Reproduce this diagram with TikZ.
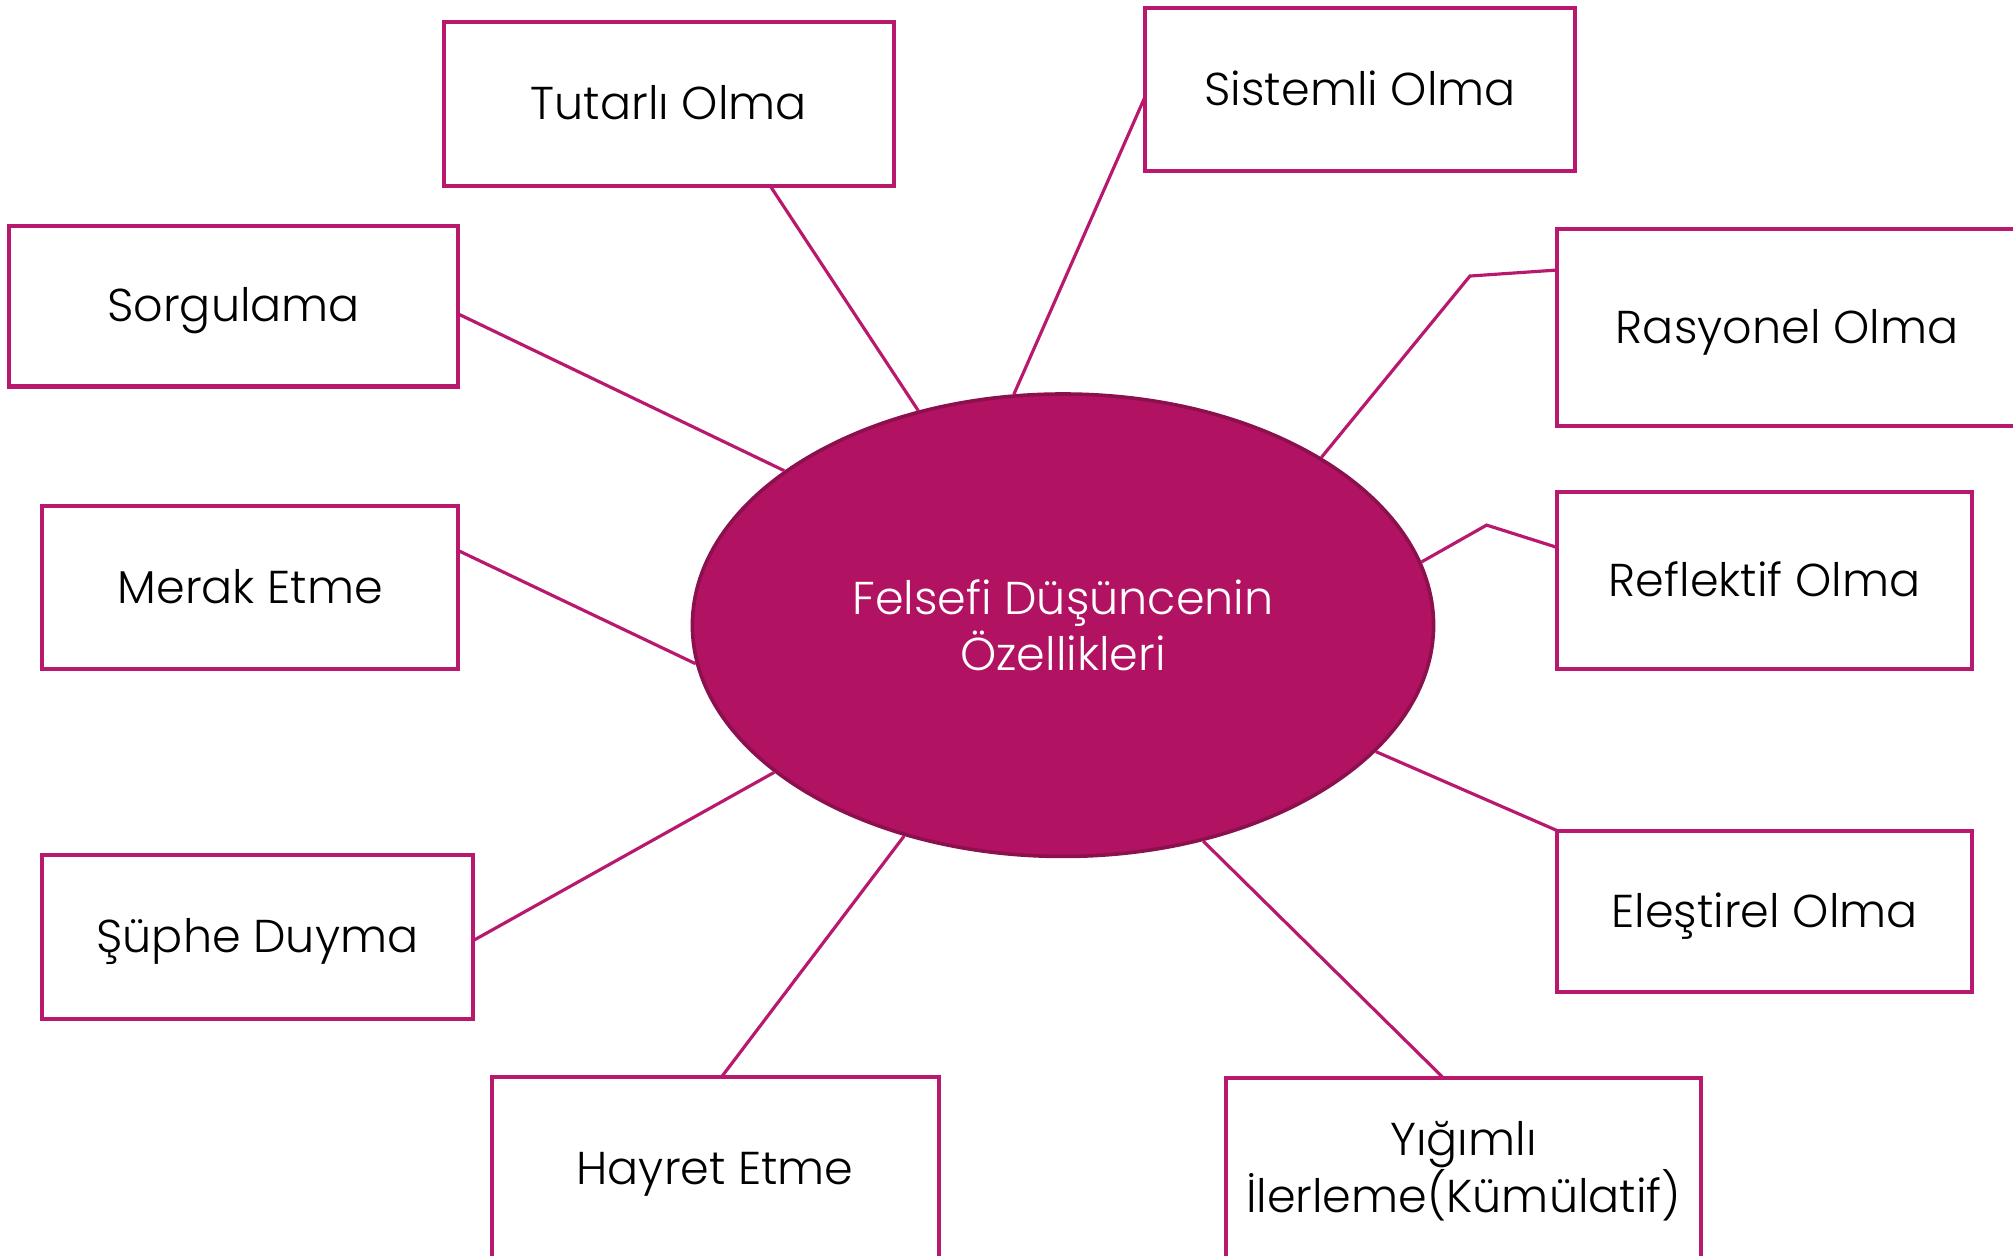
\documentclass[tikz,border=0pt]{standalone}
\usepackage{fontspec}
\setmainfont{Poppins Light}
\usetikzlibrary{shapes}

\definecolor{boxline}{HTML}{B8186E}
\definecolor{corefill}{HTML}{B21262}
\definecolor{coreline}{HTML}{8C0F4E}

\tikzset{
  feature/.style={draw=boxline,line width=0.9pt,fill=white,inner sep=0pt,outer sep=0pt,
    align=center,font=\fontsize{10.2}{12.6}\selectfont},
  oneline/.style={text height=0.95em,text depth=0.25em},
  link/.style={draw=boxline,line width=0.7pt},
}

\begin{document}
\begin{tikzpicture}[x=0.01cm,y=-0.01cm]
  \useasboundingbox (0,0) rectangle (1568,978);
  \clip (0,0) rectangle (1568,978);
  % center
  \node[ellipse,fill=corefill,draw=coreline,line width=0.8pt,inner sep=0pt,
    minimum width=5.77cm,minimum height=3.6cm,text=white,align=center,
    font=\fontsize{10.2}{12.6}\selectfont] (core) at (828,487) {Felsefi Düşüncenin\\Özellikleri};
  % features
  \node[feature,oneline,minimum width=3.5cm,minimum height=1.28cm] (tutarli) at (521,81) {Tutarlı Olma};
  \node[feature,oneline,minimum width=3.35cm,minimum height=1.27cm] (sistemli) at (1059.5,69.5) {Sistemli Olma};
  \node[feature,oneline,minimum width=3.5cm,minimum height=1.25cm] (sorgulama) at (182,238.5) {Sorgulama};
  \node[feature,oneline,minimum width=3.58cm,minimum height=1.53cm] (rasyonel) at (1392,255) {Rasyonel Olma};
  \node[feature,oneline,minimum width=3.23cm,minimum height=1.38cm] (reflektif) at (1374.5,452) {Reflektif Olma};
  \node[feature,oneline,minimum width=3.24cm,minimum height=1.27cm] (merak) at (195,457.5) {Merak Etme};
  \node[feature,oneline,minimum width=3.35cm,minimum height=1.28cm] (suphe) at (200.5,730) {Şüphe Duyma};
  \node[feature,oneline,minimum width=3.23cm,minimum height=1.26cm] (elestirel) at (1374.5,710) {Eleştirel Olma};
  \node[feature,oneline,minimum width=3.48cm,minimum height=1.42cm] (hayret) at (557,910) {Hayret Etme};
  \node[feature,minimum width=3.7cm,minimum height=1.44cm] (yigimli) at (1140,912) {Yığımlı\\İlerleme(Kümülatif)};
  % links
  \coordinate (rbend) at (1145,215);
  \coordinate (fbend) at (1158,409);
  \draw[link] (tutarli.-39) -- (core.124.2);
  \draw[link] (sistemli.182.2) -- (core.102.3);
  \draw[link] (sorgulama.-2.8) -- (core.151.3);
  \draw[link] (rasyonel.166.3) -- (rbend) -- (core.33.4);
  \draw[link] (reflektif.171.5) -- (fbend) -- (core.10.4);
  \draw[link] (merak.10.3) -- (core.186);
  \draw[link] (suphe.-1) -- (core.207.4);
  \draw[link] (elestirel.north west) -- (core.338.4);
  \draw[link] (hayret.86.9) -- (core.233.4);
  \draw[link] (yigimli.102.9) -- (core.303.1);
\end{tikzpicture}
\end{document}
